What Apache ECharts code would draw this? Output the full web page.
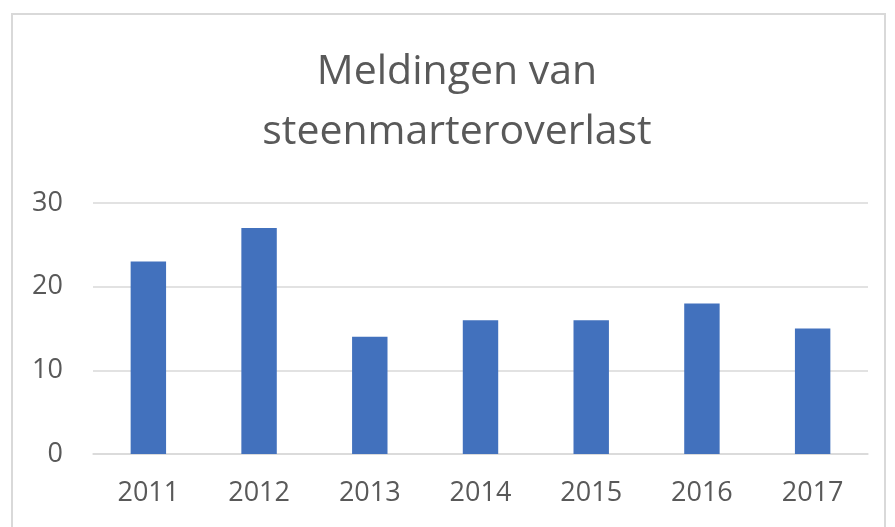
<!DOCTYPE html>
<html>
<head>
<meta charset="utf-8">
<script src="https://cdn.jsdelivr.net/npm/echarts@6/dist/echarts.min.js"></script>
<style>
html,body{margin:0;padding:0;background:#fff;}
#frame{position:absolute;left:11px;top:13px;width:875px;height:600px;border:2px solid #d9d9d9;box-sizing:border-box;}
#chart{position:absolute;left:0;top:0;width:895px;height:527px;}
</style>
</head>
<body>
<div id="frame"></div>
<div id="chart"></div>
<script>
const titleText = 'Meldingen van\nsteenmarteroverlast';
const categories = ['2011', '2012', '2013', '2014', '2015', '2016', '2017'];
const values = [23, 27, 14, 16, 16, 18, 15];
const yTicks = [0, 10, 20, 30];

const chart = echarts.init(document.getElementById('chart'), null, {renderer: 'canvas'});
chart.setOption({
  animation: false,
  graphic: [{
    type: 'text',
    x: 457,
    y: 42,
    style: {
      text: titleText,
      fontFamily: 'Open Sans',
      fontSize: 41,
      lineHeight: 60,
      fill: '#595959',
      align: 'center',
      verticalAlign: 'top',
      textAlign: 'center',
      textVerticalAlign: 'top'
    }
  }],
  grid: {left: 93, right: 27, top: 203, bottom: 73, containLabel: false},
  xAxis: {
    type: 'category',
    data: categories,
    axisLine: {show: true, lineStyle: {color: '#d9d9d9', width: 1.5}},
    axisTick: {show: false},
    axisLabel: {fontFamily: 'Open Sans', fontSize: 27, color: '#595959', margin: 26}
  },
  yAxis: {
    type: 'value',
    min: yTicks[0],
    max: yTicks[yTicks.length - 1],
    interval: 10,
    axisLine: {show: false},
    axisTick: {show: false},
    splitLine: {lineStyle: {color: '#d9d9d9', width: 1.5}},
    axisLabel: {fontFamily: 'Open Sans', fontSize: 27, color: '#595959', margin: 30}
  },
  series: [{
    type: 'bar',
    data: values,
    barWidth: '32%',
    itemStyle: {color: '#4271BD'}
  }]
});
</script>
</body>
</html>
